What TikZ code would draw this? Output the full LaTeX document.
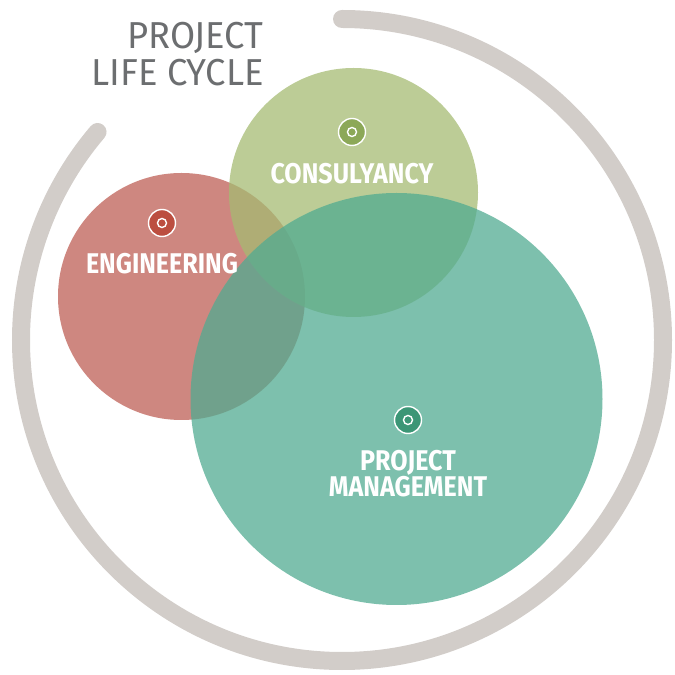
\documentclass[tikz,border=0pt]{standalone}
\usepackage{fontspec}
\usetikzlibrary{calc}
\setmainfont{Fira Sans}
\newfontfamily\labfont[FakeStretch=0.88]{Fira Sans}
\newfontfamily\titfont[FakeStretch=0.97]{Fira Sans}
\definecolor{arcgray}{RGB}{210,205,201}
\definecolor{redc}{RGB}{190,95,85}
\definecolor{greenc}{RGB}{165,187,115}
\definecolor{tealc}{RGB}{81,171,145}
\definecolor{redi}{RGB}{188,78,64}
\definecolor{greeni}{RGB}{140,168,88}
\definecolor{teali}{RGB}{60,150,118}
\definecolor{titgray}{RGB}{108,110,112}
\tikzset{
  bubble/.style={circle, inner sep=0pt, fill opacity=0.75},
  icon/.style={circle, draw=white, line width=1.4pt, minimum size=27pt, inner sep=0pt},
  iconin/.style={circle, draw=white, line width=1.4pt, minimum size=9pt, inner sep=0pt},
  lab/.style={text=white, font=\labfont\bfseries\fontsize{28.5}{24}\selectfont, align=center, inner sep=0pt},
  tit/.style={text=titgray, font=\titfont\fontsize{37.5}{37}\selectfont, inner sep=0pt, anchor=base east}
}
\begin{document}
\begin{tikzpicture}[x=1pt,y=1pt]
\useasboundingbox (0,0) rectangle (675,675);
\coordinate (C) at (342,335);
\draw[arcgray, line width=18pt, line cap=round] ($(C)+(90:321)$) arc[start angle=90, end angle=-220.4, radius=321];
\node[bubble, fill=redc, minimum size=247pt] (eng) at (181.5,378.5) {};
\node[bubble, fill=greenc, minimum size=249pt] (con) at (353.5,482.5) {};
\node[bubble, fill=tealc, minimum size=412pt] (pm) at (396.5,276) {};
\node[icon, fill=redi] (ie) at (162,452) {};
\node[iconin] (iei) at (ie) {};
\node[icon, fill=greeni] (ic) at (352,543) {};
\node[iconin] (ici) at (ic) {};
\node[icon, fill=teali] (ip) at (408,255) {};
\node[iconin] (ipi) at (ip) {};
\node[lab] (le) at (162,411.5) {ENGINEERING};
\node[lab] (lc) at (352,501) {CONSULYANCY};
\node[lab] (lp) at (408,201.5) {PROJECT\\MANAGEMENT};
\node[tit] (t1) at (264,626) {PROJECT};
\node[tit] (t2) at (264,589) {LIFE CYCLE};
\end{tikzpicture}
\end{document}
